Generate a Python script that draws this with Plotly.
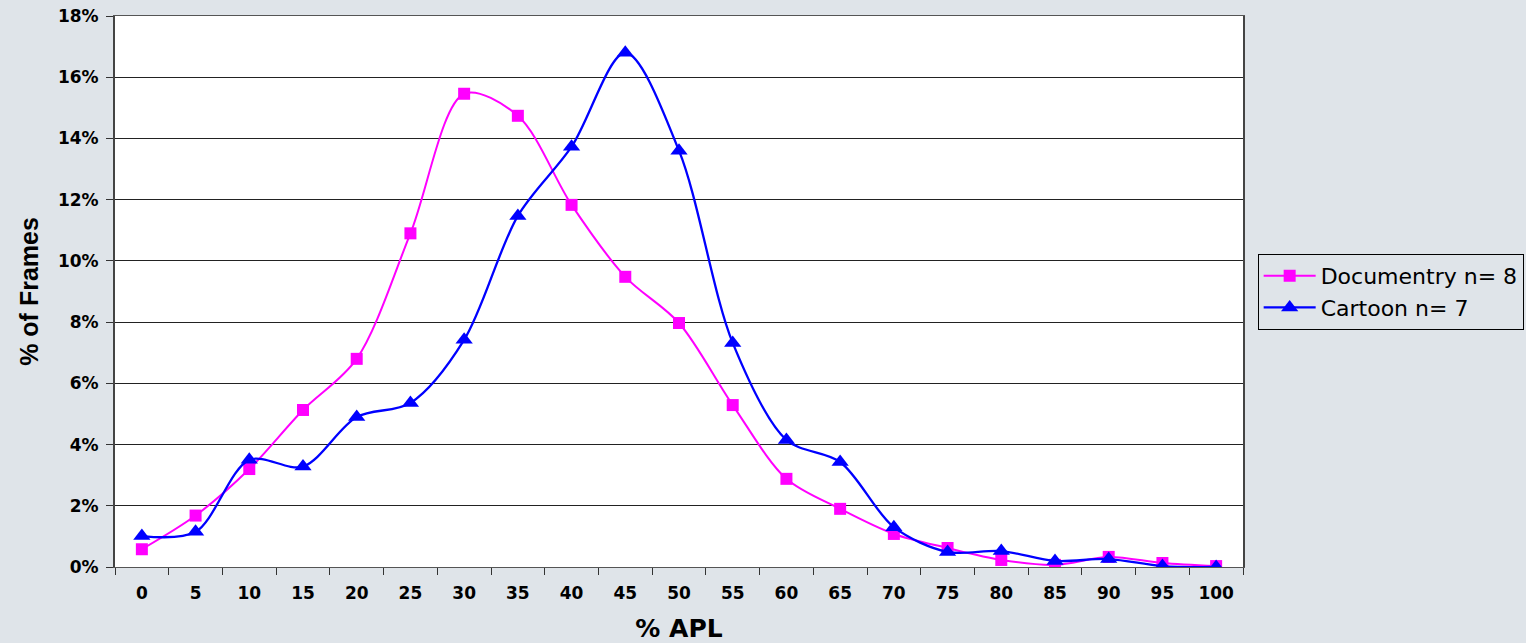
import plotly.graph_objects as go

categories = ["0", "5", "10", "15", "20", "25", "30", "35", "40", "45", "50",
              "55", "60", "65", "70", "75", "80", "85", "90", "95", "100"]
documentry = [0.58, 1.68, 3.2, 5.13, 6.8, 10.9, 15.46, 14.74, 11.83, 9.48, 7.97,
              5.29, 2.88, 1.9, 1.08, 0.62, 0.23, 0.07, 0.33, 0.13, 0.03]
cartoon = [1.01, 1.15, 3.5, 3.28, 4.9, 5.36, 7.42, 11.47, 13.73, 16.8, 13.6,
           7.32, 4.15, 3.43, 1.3, 0.49, 0.52, 0.2, 0.26, 0.03, 0.0]
y_ticks = [0, 2, 4, 6, 8, 10, 12, 14, 16, 18]
y_tick_labels = [f"{v}%" for v in y_ticks]

WIDE = "DejaVu Sans, Verdana, sans-serif"
ARIAL = "Liberation Sans, Arial, sans-serif"
BG = "#dfe4e9"

fig = go.Figure()
fig.add_trace(go.Scatter(
    x=categories, y=documentry, name="Documentry n= 8",
    mode="lines+markers", line=dict(color="#ff00ff", width=2, shape="spline", smoothing=0.9),
    marker=dict(symbol="square", size=12, color="#ff00ff"),
))
fig.add_trace(go.Scatter(
    x=categories, y=cartoon, name="Cartoon n= 7",
    mode="lines+markers", line=dict(color="#0000ff", width=2.3, shape="spline", smoothing=0.9),
    marker=dict(symbol="triangle-up", size=15, color="#0000ff"),
))

fig.update_layout(
    width=1526, height=643,
    margin=dict(l=115, r=283, t=16, b=76, autoexpand=False),
    paper_bgcolor=BG,
    plot_bgcolor="#ffffff",
    font=dict(family=WIDE, color="#000000"),
    showlegend=True,
    legend=dict(
        x=1.013, y=0.568, xanchor="left", yanchor="top",
        bgcolor=BG, bordercolor="#000000", borderwidth=1,
        font=dict(size=22, family=WIDE),
        tracegroupgap=0, itemwidth=52,
    ),
    xaxis=dict(
        type="category", range=[-0.5, 20.5], automargin=False,
        tickson="boundaries", ticks="outside", ticklen=7, tickcolor="#333",
        showgrid=False, showline=True, linecolor="#555", linewidth=1, mirror=True,
        tickfont=dict(size=17, family=WIDE, weight="bold"),
        ticklabelstandoff=11,
        title=dict(text="% APL", font=dict(size=25, family=WIDE, weight="bold"), standoff=23),
    ),
    yaxis=dict(
        range=[0, 18], tickvals=y_ticks, ticktext=y_tick_labels, automargin=False,
        ticks="outside", ticklen=7, tickcolor="#333",
        showgrid=True, gridcolor="#222", gridwidth=1,
        showline=True, linecolor="#444", linewidth=2, mirror=True,
        zeroline=False,
        tickfont=dict(size=17, family=WIDE, weight="bold"),
        ticklabelstandoff=4,
        title=dict(text="% of Frames", font=dict(size=25, family=ARIAL, weight="bold"), standoff=12),
    ),
)

fig.write_html(
    "out.html",
    config={"displayModeBar": False},
    post_script="document.body.style.margin='0';document.body.style.background='" + BG + "';",
)
